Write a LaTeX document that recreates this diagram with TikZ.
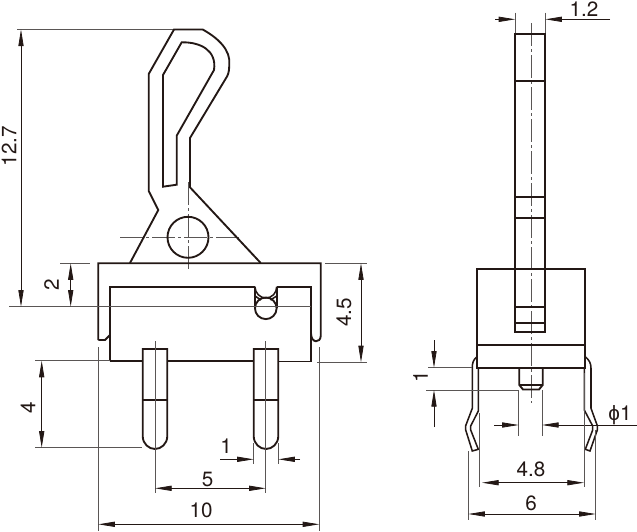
\documentclass[tikz,border=0pt]{standalone}
\usepackage{fontspec}
\setmainfont{TeX Gyre Heros}
\newfontfamily\greekfont{Liberation Sans}
\usetikzlibrary{arrows.meta}
\definecolor{ink}{HTML}{231815}
\definecolor{dimc}{HTML}{5A5655}
\tikzset{
  part/.style={draw=ink,line width=1.4pt,line join=miter},
  partthin/.style={draw=ink,line width=1.15pt},
  extline/.style={draw=dimc,line width=0.65pt},
  dimline/.style={draw=ink,line width=0.6pt},
  dimtip/.tip={Triangle[length=12.5pt,width=3.9pt]},
  dimboth/.style={dimline,{dimtip}-{dimtip}},
  dimend/.style={dimline,-{dimtip}},
  axisline/.style={draw=dimc,line width=0.6pt,dash pattern=on 17pt off 2.5pt on 2pt off 2.5pt},
  dimtext/.style={inner sep=0pt,text=ink,font=\fontsize{15.5pt}{17pt}\selectfont},
}
\begin{document}
\begin{tikzpicture}[x=0.75pt,y=-0.75pt]
\useasboundingbox (0,0) rectangle (637,532);
% ---------- left view: lever
\draw[extline] (17,29.5) -- (174,29.5);
\draw[axisline] (120,237.3) -- (240,237.3);
\draw[axisline] (188,182) -- (188,271);
\draw[part] (130,263) -- (158.3,210) -- (148.7,191) -- (148.7,74) -- (174,29.5) -- (202.7,29.5)
  .. controls (218,38) and (231,50) .. (229.3,65)
  .. controls (229,70) and (229,72) .. (227.3,76) -- (190,138) -- (190,187.3) -- (260.7,263);
\draw[part] (181.7,42.3) .. controls (200,42) and (217,50) .. (214,70) -- (176.7,135.7)
  -- (176.7,184.7) -- (163,186.7) -- (163,75) -- cycle;
\draw[part] (188,237.3) circle[radius=20.5];
% ---------- left view: housing
\draw[part] (98.3,340) -- (98.3,263.3) -- (320.7,263.3) -- (320.7,336)
  .. controls (320.7,343) and (311,344) .. (311,333);
\draw[part] (98.3,340) -- (105,340) -- (110,335);
\draw[part] (110,361.3) -- (110,286.7) -- (255,286.7)
  (276.7,286.7) -- (311,286.7) -- (311,361.5) -- (278.3,361.5)
  (253.7,361.3) -- (167.3,361.3) (142.7,361.3) -- (110,361.3);
\draw[part] (255,286.7) -- (255,308.3) (276.7,286.7) -- (276.7,308.3);
\draw[partthin] (255,286.7) .. controls (255,293) and (260,298) .. (265.8,298)
  .. controls (272,298) and (276.7,293) .. (276.7,286.7);
\draw[partthin] (255,296) -- (261,300) (276.7,296) -- (270.5,300);
\draw[part] (265.8,308.3) circle[radius=10.8];
% pins
\draw[part] (142.7,349) -- (167.3,349) -- (167.3,436)
  .. controls (167.3,444) and (161,449) .. (155,449) .. controls (149,449) and (142.7,444) .. (142.7,436) -- cycle;
\draw[part] (142.7,400) -- (167.3,400);
\draw[part] (253.7,349) -- (278.3,349) -- (278.3,436)
  .. controls (278.3,444) and (272,449) .. (266,449) .. controls (260,449) and (253.7,444) .. (253.7,436) -- cycle;
\draw[part] (253.7,400) -- (278.3,400);
% ---------- left view: dimensions
\draw[extline] (9,306.7) -- (311,306.7);
\draw[dimboth] (21,29.5) -- (21,306.7);
\node[dimtext,rotate=90] (t127) at (9,146) {12.7};
\draw[extline] (60,263.3) -- (90,263.3);
\draw[dimboth] (70.7,263.3) -- (70.7,306.7);
\node[dimtext,rotate=90] (t2) at (51.5,285) {2};
\draw[extline] (325,263.3) -- (367,263.3);
\draw[extline] (317,362.3) -- (367,362.3);
\draw[dimboth] (361,263.3) -- (361,362.3);
\node[dimtext,rotate=90] (t45) at (344,312.5) {4.5};
\draw[extline] (35,360.7) -- (110,360.7);
\draw[extline] (35,447.7) -- (142,447.7);
\draw[dimboth] (41.7,360.7) -- (41.7,447.7);
\node[dimtext,rotate=90] (t4) at (28,408) {4};
\draw[extline] (155,341) -- (155,493);
\draw[extline] (265.7,341) -- (265.7,493);
\draw[dimboth] (155,488.3) -- (265.7,488.3);
\node[dimtext] (t5) at (207.7,479.5) {5};
\draw[extline] (98.3,347) -- (98.3,531);
\draw[extline] (319.3,347) -- (319.3,531);
\draw[dimboth] (98.3,524.3) -- (319.3,524.3);
\node[dimtext] (t10) at (201,510) {10};
\draw[extline] (253.7,443) -- (253.7,464);
\draw[extline] (278.3,443) -- (278.3,464);
\draw[dimend] (220,459.3) -- (253.7,459.3);
\draw[dimend] (300,459.3) -- (278.3,459.3);
\node[dimtext] (t1a) at (226,446) {1};
% ---------- right view
\draw[axisline] (531,23) -- (531,403);
\draw[part] (515.3,269.3) -- (515.3,33.7) -- (545.3,33.7) -- (545.3,269.3);
\draw[part] (515.3,81) -- (545.3,81) (515.3,196.7) -- (545.3,196.7) (515.3,218.3) -- (545.3,218.3);
\draw[part] (477,269.3) rectangle (585,367.7);
\draw[part] (477,345) -- (585,345);
\draw[part] (515.3,269.3) -- (515.3,332.3) -- (545.3,332.3) -- (545.3,269.3);
\draw[part] (515.3,306.7) -- (545.3,306.7) (515.3,323.3) -- (545.3,323.3);
\draw[part] (519.3,367.7) -- (519.3,385) -- (523,389.5) -- (539,389.5) -- (542.7,385) -- (542.7,367.7);
\draw[partthin] (519.3,385) -- (542.7,385);
% legs
\draw[partthin] (585.3,356.7) .. controls (589,360) and (591,363) .. (591,368) -- (591,408.3)
  -- (597.3,425.7) -- (597.3,430) -- (590,451) -- (585.3,449.3) -- (592.7,430) -- (592.7,426) -- (584.3,410) -- (584.3,367.7);
\draw[partthin] (477,356.7) .. controls (473,360) and (472.3,363) .. (472.3,368) -- (472.3,408.3)
  -- (465.7,425.7) -- (465.7,430) -- (472.3,451) -- (478.3,449.3) -- (470.7,430) -- (470.7,426) -- (478.3,411) -- (478.3,367.7);
% right view dimensions
\draw[extline] (515.3,12.7) -- (515.3,33);
\draw[extline] (545.3,12.7) -- (545.3,33);
\draw[dimend] (495,19.3) -- (515.3,19.3);
\draw[dimend] (610,19.3) -- (545.3,19.3);
\node[dimtext] (t12) at (584,9) {1.2};
\draw[extline] (428,367.7) -- (472,367.7);
\draw[extline] (426,390) -- (519,390);
\draw[dimend] (434,340) -- (434,367.7);
\draw[dimend] (434,427) -- (434,390);
\node[dimtext,rotate=90] (t1b) at (420.5,377) {1};
\draw[extline] (518.7,390) -- (518.7,436);
\draw[extline] (542,390) -- (542,436);
\draw[dimend] (494,425) -- (518.7,425);
\draw[dimend] (636.7,425) -- (542,425);
\node[dimtext] (tphi) at (620,415) {{\greekfont ϕ}1};
\draw[extline] (479,413) -- (479,487);
\draw[extline] (584,373) -- (584,487);
\draw[dimboth] (482,482.7) -- (584,482.7);
\node[dimtext] (t48) at (531,469) {4.8};
\draw[extline] (468.3,451) -- (468.3,520);
\draw[extline] (595.7,430) -- (595.7,520);
\draw[dimboth] (468.3,514) -- (595.7,514);
\node[dimtext] (t6) at (531,503) {6};
\end{tikzpicture}
\end{document}
